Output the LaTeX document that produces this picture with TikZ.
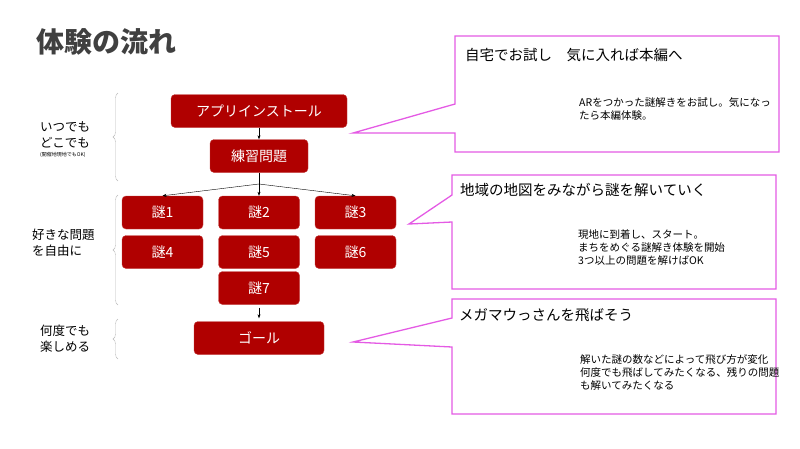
\documentclass[tikz,border=0pt]{standalone}
\usepackage{fontspec}
\setmainfont{Noto Sans CJK JP}
\usetikzlibrary{arrows.meta,decorations.pathreplacing}
\definecolor{nazored}{RGB}{176,0,0}
\definecolor{fukidashi}{RGB}{228,90,228}
\definecolor{titlegray}{RGB}{64,64,64}
\tikzset{
 akabox/.style={fill=nazored,draw=nazored!75!white,rounded corners=4pt,text=white,
  font=\fontsize{14}{14}\selectfont,minimum height=33pt,inner sep=0pt},
 ya/.style={-{Stealth[length=4pt,width=3pt]},thin},
 kakko/.style={draw=gray!55,decorate,decoration={brace,amplitude=5pt}},
 waku/.style={draw=fukidashi,line width=1.3pt},
 midashi/.style={anchor=west,inner sep=0pt,font=\fontsize{14.5}{14.5}\selectfont},
 setsumei/.style={anchor=north west,inner sep=0pt,align=left,font=\fontsize{10.5}{13}\selectfont},
 hidari/.style={anchor=west,inner sep=0pt,align=left,font=\fontsize{12.5}{16}\selectfont}
}
\begin{document}
\begin{tikzpicture}[x=1pt,y=-1pt]
 \useasboundingbox (0,0) rectangle (800,448); %画面全体
 \node[anchor=west,inner sep=0pt,text=titlegray,font=\fontsize{28}{28}\selectfont\bfseries] (title) at (36,42) {体験の流れ}; %タイトル
 % 赤い箱
 \node[akabox,minimum width=176pt] (app) at (259,111) {アプリインストール};
 \node[akabox,minimum width=98pt] (renshu) at (259,156) {練習問題};
 \node[akabox,minimum width=81pt] (nazo1) at (162.5,212.5) {謎1};
 \node[akabox,minimum width=81pt] (nazo2) at (259,212.5) {謎2};
 \node[akabox,minimum width=81pt] (nazo3) at (355.5,212.5) {謎3};
 \node[akabox,minimum width=81pt] (nazo4) at (162.5,252) {謎4};
 \node[akabox,minimum width=81pt] (nazo5) at (259,252) {謎5};
 \node[akabox,minimum width=81pt] (nazo6) at (355.5,252) {謎6};
 \node[akabox,minimum width=81pt] (nazo7) at (259,288) {謎7};
 \node[akabox,minimum width=130pt] (goal) at (259,338) {ゴール};
 % 矢印
 \coordinate (bunki) at (259,184); %分岐点
 \draw[ya] (app.south)--(renshu.north);
 \draw[thin] (renshu.south)--(bunki);
 \foreach \n in {1,2,3} \draw[ya] (bunki)--(nazo\n.north);
 \draw[ya,shorten <=3pt,shorten >=3pt] (nazo7.south)--(goal.north);
 % 左の説明と括弧
 \node[hidari] (itsudemo) at (40,135) {いつでも\\どこでも};
 \node[anchor=west,inner sep=0pt,font=\fontsize{5}{5}\selectfont] (kaisai) at (40,155) {(開催地現地でもOK)};
 \node[hidari] (sukina) at (32,243) {好きな問題\\を自由に};
 \node[hidari] (nando) at (40,339) {何度でも\\楽しめる};
 \draw[kakko] (118,181)--(118,93);
 \draw[kakko] (118,305)--(118,195);
 \draw[kakko] (118,359)--(118,319);
 % 吹き出し
 \draw[waku] (455,36)--(779,36)--(779,152)--(455,152)--(455,133)--(353,133)--(455,104)--cycle;
 \draw[waku] (452,175)--(776,175)--(776,289)--(452,289)--(452,222)--(409,224)--(452,195)--cycle;
 \draw[waku] (452,299)--(776,299)--(776,414)--(452,414)--(452,347)--(353,342)--(452,318)--cycle;
 \node[midashi] (midashi1) at (465,55) {自宅でお試し　気に入れば本編へ};
 \node[midashi] (midashi2) at (460,190) {地域の地図をみながら謎を解いていく};
 \node[midashi] (midashi3) at (459,315) {メガマウっさんを飛ばそう};
 \node[setsumei] (setsumei1) at (579,97) {ARをつかった謎解きをお試し。気になっ\\たら本編体験。};
 \node[setsumei] (setsumei2) at (578,229) {現地に到着し、スタート。\\まちをめぐる謎解き体験を開始\\3つ以上の問題を解けばOK};
 \node[setsumei] (setsumei3) at (580,354) {解いた謎の数などによって飛び方が変化\\何度でも飛ばしてみたくなる、残りの問題\\も解いてみたくなる};
\end{tikzpicture}
\end{document}
